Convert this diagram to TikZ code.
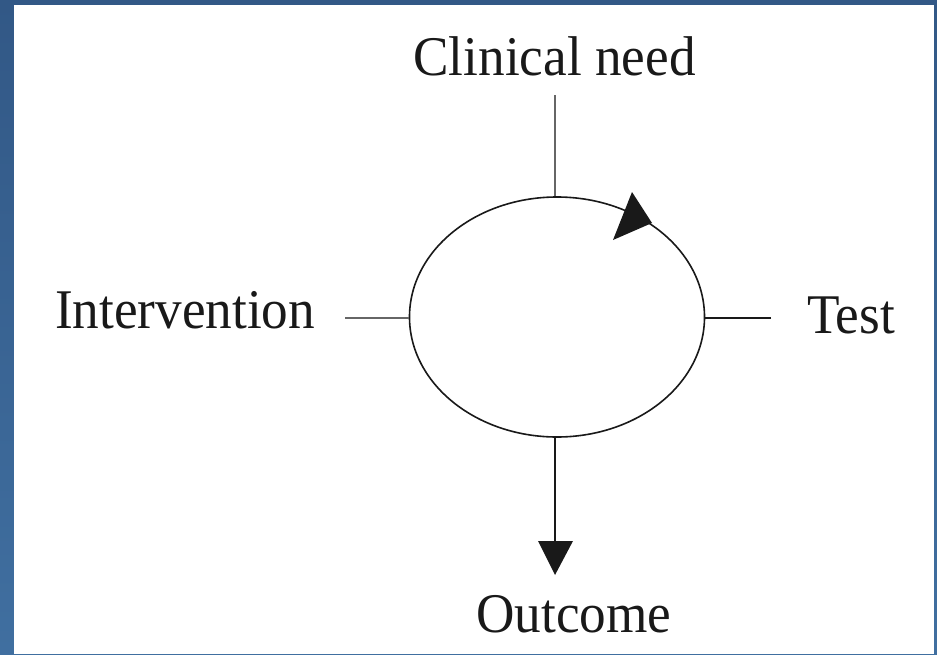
\documentclass[tikz,border=0pt]{standalone}
\usepackage{fontspec}
\setmainfont{Liberation Serif}[FakeStretch=0.95]
\usetikzlibrary{shapes.geometric}
\definecolor{bordertop}{RGB}{50,88,134}
\definecolor{borderbot}{RGB}{64,111,160}
\definecolor{ink}{RGB}{25,25,25}
\begin{document}
\begin{tikzpicture}[x=1pt,y=-1pt,
  lbl/.style={font=\fontsize{56}{60}\selectfont, text=ink, anchor=base, inner sep=0pt},
  conn/.style={draw=ink, line width=1.6pt},
  head/.style={fill=ink}]
\useasboundingbox (0,0) rectangle (937,654);
\shade[top color=bordertop, bottom color=borderbot] (0,0) rectangle (937,654);
\fill[white] (14,5) rectangle (934,654);
% cycle
\node[draw=ink, line width=1.6pt, ellipse, minimum width=295pt, minimum height=240pt, inner sep=0pt] (cyc) at (557,317) {};
% labels
\node[lbl] (need) at (554.5,75) {Clinical need};
\node[lbl] (interv) at (185,328) {Intervention};
\node[lbl] (test) at (851,333) {Test};
\node[lbl] (outc) at (574,632) {Outcome};
% connector ends
\coordinate (needend) at (555,95);
\coordinate (intervend) at (345,318);
\coordinate (testend) at (771,318);
\coordinate (outcend) at (555,541);
\draw[conn, draw=gray!80!black, line width=1.4pt] (needend) -- (needend |- cyc.north);
\draw[conn, draw=gray!80!black, line width=1.4pt] (intervend) -- (intervend -| cyc.west);
\draw[conn] (testend) -- (testend -| cyc.east);
\draw[conn] (outcend |- cyc.south) -- (outcend);
% arrowheads
\fill[head] (outcend) ++(-17,0) -- ++(35,0) -- (555,575) -- cycle;
\fill[head] (632,192) -- (613,240) -- (652,223) -- cycle;
\end{tikzpicture}
\end{document}
